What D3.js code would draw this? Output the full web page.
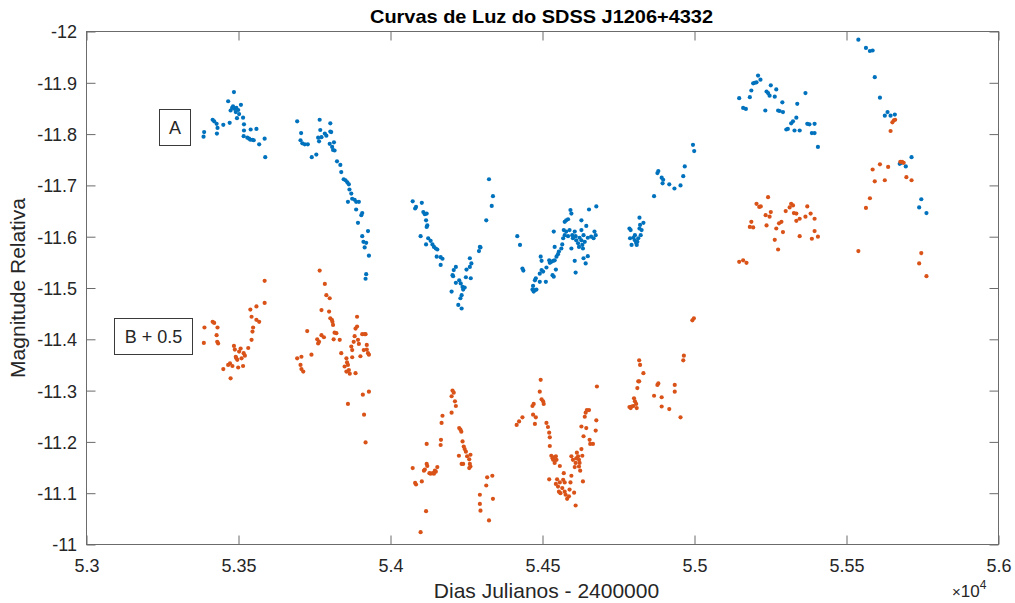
<!DOCTYPE html>
<html><head><meta charset="utf-8">
<script src="https://cdn.jsdelivr.net/npm/d3@7"></script>
<style>body{margin:0;background:#fff}svg{display:block}text{font-family:"Liberation Sans",Arial,Helvetica,sans-serif}</style>
</head><body><svg id="c" width="1015" height="603"></svg>
<script>
const title = "Curvas de Luz do SDSS J1206+4332";
const xLabel = "Dias Julianos - 2400000";
const yLabel = "Magnitude Relativa";
const xTicks = [53000,53500,54000,54500,55000,55500,56000];
const xTickLabels = ["5.3","5.35","5.4","5.45","5.5","5.55","5.6"];
const yTicks = [-12,-11.9,-11.8,-11.7,-11.6,-11.5,-11.4,-11.3,-11.2,-11.1,-11];
const yTickLabels = ["-12","-11.9","-11.8","-11.7","-11.6","-11.5","-11.4","-11.3","-11.2","-11.1","-11"];
const seriesNames = ["A","B + 0.5"];
const seriesColors = ["#0072BD","#D95319"];

// [Julian day - 2400000, relative magnitude]
const pointsA = [
[53385,-11.795],[53387,-11.804],[53415,-11.828],[53420,-11.825],[53428,-11.820],[53431,-11.812],[53429,-11.801],[53450,-11.818],[53466,-11.864],[53471,-11.822],[53474,-11.846],[53479,-11.851],[53485,-11.882],[53482,-11.854],[53488,-11.849],[53491,-11.843],[53493,-11.851],[53495,-11.831],[53499,-11.847],[53502,-11.839],[53508,-11.857],[53515,-11.832],[53518,-11.819],[53518,-11.807],[53517,-11.796],[53529,-11.793],[53535,-11.791],[53539,-11.789],[53546,-11.789],[53550,-11.788],[53540,-11.809],[53559,-11.810],[53568,-11.780],[53586,-11.791],[53588,-11.755],
[53693,-11.825],[53706,-11.802],[53704,-11.788],[53710,-11.782],[53718,-11.780],[53728,-11.780],[53741,-11.755],[53756,-11.760],[53767,-11.828],[53769,-11.808],[53762,-11.793],[53765,-11.786],[53773,-11.794],[53784,-11.801],[53789,-11.797],[53802,-11.821],[53802,-11.805],[53805,-11.804],[53800,-11.781],[53808,-11.775],[53811,-11.769],[53814,-11.784],[53816,-11.768],[53824,-11.747],[53835,-11.740],[53838,-11.726],[53846,-11.712],[53852,-11.710],[53858,-11.706],[53863,-11.702],[53865,-11.692],[53871,-11.684],[53860,-11.668],[53874,-11.674],[53882,-11.672],[53887,-11.668],[53896,-11.668],[53887,-11.653],[53904,-11.642],[53907,-11.646],[53893,-11.627],[53907,-11.601],[53926,-11.611],[53911,-11.590],[53920,-11.588],[53915,-11.579],[53929,-11.563],[53920,-11.527],[53918,-11.518],
[54073,-11.669],[54081,-11.655],[54084,-11.658],[54103,-11.666],[54108,-11.648],[54113,-11.644],[54119,-11.645],[54117,-11.632],[54119,-11.619],[54121,-11.622],[54099,-11.601],[54117,-11.585],[54124,-11.597],[54132,-11.592],[54138,-11.585],[54143,-11.580],[54149,-11.577],[54154,-11.575],[54152,-11.561],[54165,-11.560],[54171,-11.557],[54165,-11.545],[54204,-11.525],[54206,-11.523],[54208,-11.535],[54215,-11.541],[54215,-11.510],[54226,-11.515],[54231,-11.509],[54237,-11.502],[54239,-11.497],[54244,-11.501],[54234,-11.486],[54230,-11.480],[54201,-11.493],[54223,-11.467],[54234,-11.460],[54248,-11.521],[54250,-11.536],[54261,-11.541],[54264,-11.519],[54261,-11.558],[54266,-11.548],[54291,-11.572],[54296,-11.579],[54294,-11.580],[54315,-11.632],[54333,-11.660],[54337,-11.679],[54324,-11.712],
[54417,-11.601],[54426,-11.584],[54434,-11.538],[54437,-11.534],[54467,-11.497],[54471,-11.493],[54475,-11.496],[54480,-11.497],[54469,-11.504],[54475,-11.515],[54478,-11.519],[54491,-11.512],[54491,-11.528],[54497,-11.535],[54502,-11.532],[54494,-11.561],[54497,-11.553],[54511,-11.512],[54513,-11.540],[54522,-11.554],[54524,-11.549],[54529,-11.551],[54535,-11.553],[54540,-11.554],[54533,-11.525],[54537,-11.522],[54544,-11.536],[54546,-11.561],[54551,-11.566],[54554,-11.571],[54540,-11.580],[54537,-11.610],[54562,-11.577],[54565,-11.585],[54568,-11.597],[54573,-11.603],[54570,-11.613],[54573,-11.629],[54578,-11.632],[54584,-11.634],[54578,-11.610],[54584,-11.601],[54589,-11.613],[54592,-11.652],[54595,-11.645],[54598,-11.603],[54600,-11.597],[54606,-11.610],[54609,-11.601],[54611,-11.593],[54617,-11.587],[54620,-11.580],[54622,-11.598],[54628,-11.632],[54628,-11.613],[54628,-11.593],[54631,-11.584],[54633,-11.577],[54635,-11.603],[54639,-11.590],[54644,-11.621],[54649,-11.598],[54653,-11.653],[54660,-11.600],[54668,-11.597],[54671,-11.610],[54677,-11.659],[54675,-11.603],[54606,-11.553],[54609,-11.530],[54635,-11.558],[54642,-11.548],[54649,-11.562],[54595,-11.577],
[54786,-11.616],[54790,-11.613],[54788,-11.597],[54799,-11.598],[54804,-11.593],[54808,-11.588],[54812,-11.590],[54815,-11.597],[54819,-11.616],[54821,-11.623],[54819,-11.637],[54832,-11.627],[54823,-11.603],[54793,-11.584],[54810,-11.584],[54804,-11.603],[54826,-11.613],
[54867,-11.679],[54878,-11.724],[54881,-11.728],[54892,-11.715],[54895,-11.704],[54897,-11.711],[54917,-11.702],[54934,-11.694],[54954,-11.700],[54963,-11.718],[54968,-11.737],[54995,-11.779],[54999,-11.767],
[55147,-11.870],[55160,-11.851],[55169,-11.849],[55182,-11.872],[55187,-11.885],[55193,-11.899],[55198,-11.900],[55204,-11.901],[55209,-11.914],[55217,-11.906],[55233,-11.846],[55237,-11.883],[55242,-11.880],[55247,-11.875],[55251,-11.895],[55264,-11.873],[55269,-11.887],[55275,-11.846],[55280,-11.845],[55289,-11.862],[55291,-11.843],[55302,-11.809],[55307,-11.810],[55318,-11.821],[55324,-11.825],[55335,-11.832],[55329,-11.807],[55338,-11.859],[55346,-11.807],[55365,-11.880],[55371,-11.820],[55378,-11.819],[55395,-11.820],[55386,-11.802],[55395,-11.802],[55406,-11.775],
[55539,-11.984],[55564,-11.968],[55577,-11.962],[55586,-11.963],[55593,-11.911],[55610,-11.871],[55626,-11.836],[55635,-11.843],[55645,-11.836],[55659,-11.838],[55675,-11.742],[55681,-11.744],[55695,-11.737],[55714,-11.755],[55746,-11.673],[55739,-11.657],[55763,-11.646]
];

const pointsB = [
[53386,-11.393],[53388,-11.423],[53415,-11.434],[53420,-11.432],[53431,-11.423],[53428,-11.408],[53430,-11.395],[53433,-11.392],[53450,-11.342],[53466,-11.350],[53472,-11.353],[53474,-11.324],[53480,-11.348],[53485,-11.387],[53488,-11.380],[53491,-11.366],[53493,-11.363],[53496,-11.360],[53499,-11.345],[53502,-11.376],[53507,-11.382],[53510,-11.363],[53515,-11.348],[53517,-11.373],[53521,-11.368],[53532,-11.383],[53543,-11.399],[53546,-11.415],[53548,-11.423],[53539,-11.458],[53543,-11.444],[53559,-11.464],[53559,-11.438],[53568,-11.434],[53586,-11.471],[53586,-11.514],
[53693,-11.363],[53707,-11.366],[53704,-11.350],[53707,-11.342],[53713,-11.337],[53726,-11.416],[53740,-11.370],[53759,-11.400],[53762,-11.392],[53765,-11.395],[53767,-11.534],[53773,-11.408],[53773,-11.457],[53781,-11.404],[53784,-11.508],[53789,-11.486],[53800,-11.480],[53798,-11.454],[53802,-11.441],[53807,-11.438],[53809,-11.434],[53811,-11.428],[53816,-11.413],[53822,-11.412],[53813,-11.400],[53833,-11.399],[53838,-11.373],[53849,-11.347],[53855,-11.363],[53857,-11.355],[53860,-11.350],[53855,-11.337],[53863,-11.340],[53866,-11.333],[53871,-11.386],[53874,-11.379],[53874,-11.365],[53879,-11.395],[53882,-11.406],[53885,-11.421],[53890,-11.425],[53890,-11.444],[53885,-11.334],[53893,-11.399],[53896,-11.391],[53901,-11.367],[53907,-11.410],[53912,-11.379],[53915,-11.410],[53918,-11.410],[53922,-11.389],[53922,-11.380],[53926,-11.373],[53929,-11.370],[53860,-11.274],[53909,-11.292],[53929,-11.298],[53913,-11.253],[53918,-11.199],
[54073,-11.149],[54081,-11.120],[54084,-11.117],[54103,-11.123],[54099,-11.024],[54117,-11.065],[54110,-11.144],[54113,-11.146],[54119,-11.157],[54121,-11.153],[54119,-11.196],[54128,-11.139],[54132,-11.138],[54139,-11.139],[54143,-11.138],[54146,-11.144],[54154,-11.151],[54149,-11.142],[54165,-11.194],[54166,-11.204],[54168,-11.237],[54171,-11.251],[54201,-11.257],[54201,-11.289],[54204,-11.300],[54208,-11.296],[54212,-11.279],[54215,-11.270],[54226,-11.227],[54230,-11.224],[54233,-11.220],[54237,-11.201],[54241,-11.191],[54244,-11.186],[54248,-11.181],[54225,-11.173],[54234,-11.157],[54239,-11.157],[54252,-11.172],[54259,-11.166],[54261,-11.157],[54263,-11.152],[54259,-11.149],[54263,-11.175],[54294,-11.097],[54294,-11.079],[54296,-11.066],[54315,-11.115],[54318,-11.131],[54324,-11.047],[54335,-11.134],[54337,-11.089],
[54415,-11.233],[54423,-11.240],[54434,-11.248],[54467,-11.270],[54469,-11.253],[54471,-11.274],[54475,-11.235],[54478,-11.248],[54491,-11.298],[54494,-11.321],[54497,-11.283],[54502,-11.279],[54504,-11.274],[54513,-11.237],[54518,-11.229],[54522,-11.218],[54524,-11.209],[54524,-11.192],[54529,-11.173],[54533,-11.168],[54535,-11.165],[54537,-11.170],[54540,-11.159],[54544,-11.172],[54546,-11.165],[54557,-11.153],[54522,-11.127],[54544,-11.118],[54548,-11.127],[54551,-11.113],[54557,-11.121],[54554,-11.103],[54559,-11.100],[54565,-11.110],[54568,-11.126],[54570,-11.139],[54573,-11.121],[54573,-11.103],[54576,-11.097],[54581,-11.089],[54587,-11.094],[54589,-11.107],[54592,-11.121],[54595,-11.134],[54600,-11.165],[54604,-11.101],[54606,-11.151],[54609,-11.076],[54609,-11.159],[54613,-11.179],[54617,-11.172],[54620,-11.152],[54622,-11.159],[54624,-11.144],[54628,-11.230],[54628,-11.186],[54631,-11.173],[54633,-11.123],[54635,-11.211],[54639,-11.249],[54642,-11.257],[54644,-11.227],[54646,-11.262],[54653,-11.262],[54655,-11.204],[54657,-11.196],[54666,-11.196],[54675,-11.222],[54677,-11.242],[54679,-11.308],[54595,-11.172],[54611,-11.168],[54620,-11.165],
[54786,-11.268],[54790,-11.266],[54793,-11.269],[54799,-11.270],[54801,-11.285],[54804,-11.279],[54808,-11.274],[54810,-11.266],[54812,-11.305],[54815,-11.318],[54818,-11.318],[54818,-11.359],[54821,-11.350],[54832,-11.334],[54867,-11.290],[54878,-11.311],[54881,-11.314],[54892,-11.287],[54892,-11.269],[54917,-11.264],[54935,-11.311],[54935,-11.298],[54954,-11.248],[54963,-11.359],[54965,-11.368],[54993,-11.437],[54998,-11.441],
[55147,-11.551],[55160,-11.554],[55171,-11.549],[55182,-11.619],[55187,-11.629],[55193,-11.618],[55204,-11.664],[55213,-11.658],[55218,-11.659],[55234,-11.642],[55237,-11.622],[55242,-11.677],[55247,-11.639],[55251,-11.648],[55264,-11.594],[55269,-11.616],[55275,-11.575],[55278,-11.626],[55286,-11.629],[55291,-11.609],[55300,-11.650],[55313,-11.657],[55318,-11.664],[55324,-11.661],[55327,-11.646],[55335,-11.645],[55335,-11.631],[55346,-11.635],[55346,-11.601],[55365,-11.639],[55371,-11.659],[55382,-11.645],[55386,-11.596],[55395,-11.635],[55395,-11.611],[55406,-11.600],
[55539,-11.572],[55564,-11.656],[55577,-11.675],[55586,-11.731],[55593,-11.708],[55610,-11.741],[55626,-11.710],[55637,-11.736],[55645,-11.806],[55651,-11.823],[55656,-11.827],[55660,-11.828],[55677,-11.746],[55683,-11.746],[55688,-11.744],[55697,-11.716],[55714,-11.710],[55739,-11.548],[55746,-11.568],[55763,-11.523]
];

const svg = d3.select("#c");
const L = 86.5, R = 998.5, T = 31.5, B = 544.5;
const x = d3.scaleLinear().domain([53000,56000]).range([L,R]);
const y = d3.scaleLinear().domain([-12,-11]).range([T,B]);
const axisColor = "#6b6b6b", textColor = "#262626", tickLen = 9;

function styleAxis(g){
  g.select(".domain").remove();
  g.selectAll(".tick line").attr("stroke", axisColor).attr("stroke-width", 1);
  g.selectAll(".tick text").attr("fill", textColor).style("font-size","18px").style("font-family",'"Liberation Sans",Arial,sans-serif');
}

// bottom
svg.append("g").attr("transform",`translate(0,${B})`)
  .call(d3.axisBottom(x).tickValues(xTicks).tickSizeInner(-tickLen).tickSizeOuter(0).tickFormat((d,i)=>xTickLabels[i]))
  .call(styleAxis)
  .call(g=>g.selectAll(".tick text").attr("y",27.5).attr("dy",0));
// top
svg.append("g").attr("transform",`translate(0,${T})`)
  .call(d3.axisTop(x).tickValues(xTicks).tickSizeInner(-tickLen).tickSizeOuter(0).tickFormat(""))
  .call(styleAxis);
// left
svg.append("g").attr("transform",`translate(${L},0)`)
  .call(d3.axisLeft(y).tickValues(yTicks).tickSizeInner(-tickLen).tickSizeOuter(0).tickFormat((d,i)=>yTickLabels[i]))
  .call(styleAxis)
  .call(g=>g.selectAll(".tick text").attr("x",-9.5).attr("dy","0.36em"));
// right
svg.append("g").attr("transform",`translate(${R},0)`)
  .call(d3.axisRight(y).tickValues(yTicks).tickSizeInner(-tickLen).tickSizeOuter(0).tickFormat(""))
  .call(styleAxis);

svg.append("rect").attr("x",L).attr("y",T).attr("width",R-L).attr("height",B-T)
  .attr("fill","none").attr("stroke",axisColor).attr("stroke-width",1);

// points
[pointsA, pointsB].forEach((pts, k) => {
  svg.append("g").selectAll("circle").data(pts).join("circle")
    .attr("cx", d => x(d[0])).attr("cy", d => y(d[1])).attr("r", 2.1)
    .attr("fill", seriesColors[k]);
});

// annotation boxes
const boxes = [
  {name: seriesNames[0], x0: 159.5, y0: 109.5, w: 31, h: 36},
  {name: seriesNames[1], x0: 114.5, y0: 318.5, w: 78, h: 36}
];
boxes.forEach(b => {
  svg.append("rect").attr("x",b.x0).attr("y",b.y0).attr("width",b.w).attr("height",b.h)
    .attr("fill","#fff").attr("stroke","#3a3a3a").attr("stroke-width",1);
  svg.append("text").attr("x", b.x0 + b.w/2).attr("y", b.y0 + b.h/2 + 6.5)
    .attr("text-anchor","middle").attr("fill",textColor).style("font-size","18px").text(b.name);
});

// title
svg.append("text").attr("x",541.5).attr("y",23).attr("text-anchor","middle")
  .attr("fill","#000").style("font-size","18.5px").style("font-weight","bold")
  .attr("textLength",343).attr("lengthAdjust","spacingAndGlyphs").text(title);
// x label
svg.append("text").attr("x",546.5).attr("y",598).attr("text-anchor","middle")
  .attr("fill",textColor).style("font-size","21px").text(xLabel);
// y label
svg.append("text").attr("transform","translate(25,288) rotate(-90)").attr("text-anchor","middle")
  .attr("fill",textColor).style("font-size","21px").text(yLabel);
// exponent
const ex = svg.append("text").attr("x",952).attr("y",597).attr("fill",textColor).style("font-size","17px");
ex.append("tspan").style("font-size","15px").text("×");
ex.append("tspan").text("10");
ex.append("tspan").style("font-size","12px").attr("dy",-8).text("4");
</script></body></html>
